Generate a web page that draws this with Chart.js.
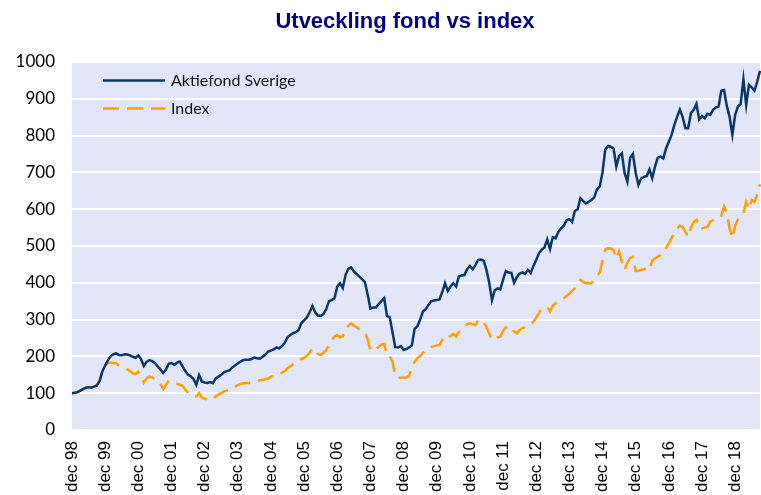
<!DOCTYPE html>
<html><head><meta charset="utf-8">
<script src="https://cdn.jsdelivr.net/npm/chart.js@4"></script>
<style>html,body{margin:0;padding:0;background:#fff}</style>
</head><body>
<canvas id="c" width="761" height="495"></canvas>
<script>
const chartTitle = 'Utveckling fond vs index';
const seriesNames = ['Aktiefond Sverige', 'Index'];
const yearLabels = ['dec 98','dec 99','dec 00','dec 01','dec 02','dec 03','dec 04','dec 05','dec 06','dec 07',
                    'dec 08','dec 09','dec 10','dec 11','dec 12','dec 13','dec 14','dec 15','dec 16','dec 17','dec 18'];
const yTicks = [0,100,200,300,400,500,600,700,800,900,1000];

const fundValues = [
 100,101,103,107,111,115,116,115,118,121,133,160,
 175,190,201,206,208,204,203,206,205,203,199,196,
 203,192,174,185,190,187,182,173,165,155,164,180,
 182,177,183,186,173,160,150,146,138,123,149,132,
 129,128,130,127,140,145,150,157,160,162,170,175,
 181,186,190,191,191,193,197,195,194,199,205,213,
 216,219,224,222,228,237,252,258,263,266,272,290,
 298,306,320,337,320,311,310,315,328,350,353,358,
 390,399,386,421,438,442,431,424,417,410,402,368,
 330,333,333,342,350,358,310,306,265,225,224,228,
 218,220,224,230,275,282,300,322,328,340,350,352,
 353,355,375,399,378,390,399,390,417,420,421,437,
 446,437,448,462,463,460,435,400,353,380,385,382,
 408,432,428,427,400,415,425,428,424,435,427,446,
 462,480,490,496,518,492,524,521,538,548,555,570,
 573,565,595,600,630,622,616,620,625,632,654,662,
 700,762,772,770,765,716,745,752,698,675,740,750,
 700,666,684,688,690,708,684,716,740,743,738,765,
 783,802,829,851,871,851,820,820,861,870,886,844,
 853,847,859,856,870,876,879,922,924,880,851,802,
 856,879,886,953,883,938,931,922,947,976
];

const indexValues = [
 100,101,103,107,111,114,116,115,118,122,135,158,
 176,183,183,182,181,175,172,168,165,160,154,152,
 158,149,129,140,145,143,138,132,125,111,122,134,
 132,129,126,123,120,110,101,93,91,91,100,88,
 85,83,82,84,91,96,100,105,107,109,113,118,
 122,125,127,128,128,129,131,133,135,136,138,140,
 144,147,150,152,156,160,168,173,178,180,188,193,
 196,202,210,222,217,206,204,210,217,230,242,254,
 258,252,254,276,283,290,284,279,274,270,267,246,
 217,222,220,226,232,234,203,201,185,147,143,142,
 143,143,147,170,185,195,201,210,217,222,226,228,
 230,231,245,256,252,255,261,254,266,272,280,288,
 290,287,285,298,300,292,280,262,245,250,252,253,
 270,279,280,281,268,262,272,277,279,281,286,294,
 305,318,330,333,333,322,338,344,349,355,358,364,
 370,378,385,395,408,402,399,399,399,408,418,428,
 460,490,494,493,489,466,485,457,435,455,467,470,
 432,432,435,437,439,435,460,466,471,475,480,495,
 507,522,535,548,555,552,538,525,550,565,571,548,
 548,550,552,566,570,571,576,582,607,590,548,521,
 555,572,580,589,620,600,625,620,640,668
];

const categories = fundValues.map((_, i) => (i % 12 === 0 ? yearLabels[i / 12] : ''));

const fundColor = '#0A3768';
const indexColor = '#FFA000';
const plotBg = '#E3E5F9';

const bgPlugin = {
  id: 'bg',
  beforeDraw(chart) {
    const { ctx, chartArea: a } = chart;
    ctx.save();
    ctx.fillStyle = plotBg;
    ctx.fillRect(a.left, a.top, a.right - a.left, a.bottom - a.top);
    ctx.restore();
  }
};

const titleLegendPlugin = {
  id: 'titleLegend',
  afterDraw(chart) {
    const ctx = chart.ctx;
    ctx.save();
    ctx.fillStyle = '#000080';
    ctx.font = 'bold 22px "Liberation Sans", Arial, sans-serif';
    ctx.textAlign = 'center';
    ctx.textBaseline = 'alphabetic';
    ctx.fillText(chartTitle, 405, 28);

    const rows = [
      { y: 80.5, ds: chart.data.datasets[0] },
      { y: 108.5, ds: chart.data.datasets[1] }
    ];
    rows.forEach(r => {
      ctx.beginPath();
      ctx.strokeStyle = r.ds.borderColor;
      ctx.lineWidth = r.ds.borderWidth;
      ctx.setLineDash(r.ds.borderDash || []);
      ctx.moveTo(103, r.y);
      ctx.lineTo(165, r.y);
      ctx.stroke();
      ctx.setLineDash([]);
      ctx.fillStyle = '#111';
      ctx.font = '16px Lato, sans-serif';
      ctx.textAlign = 'left';
      ctx.textBaseline = 'middle';
      ctx.fillText(r.ds.label, 171, r.y);
    });
    ctx.restore();
  }
};

new Chart(document.getElementById('c'), {
  type: 'line',
  data: {
    labels: categories,
    datasets: [
      { label: seriesNames[0], data: fundValues, borderColor: fundColor, borderWidth: 2.5,
        pointRadius: 0, tension: 0, fill: false },
      { label: seriesNames[1], data: indexValues, borderColor: indexColor, borderWidth: 2.5,
        borderDash: [16, 8], pointRadius: 0, tension: 0, fill: false }
    ]
  },
  options: {
    responsive: false,
    animation: false,
    layout: { padding: { top: 62, right: 1, left: 0, bottom: 0 } },
    plugins: { legend: { display: false }, title: { display: false }, tooltip: { enabled: false } },
    scales: {
      x: {
        ticks: { autoSkip: false, maxRotation: 90, minRotation: 90, padding: 11,
                 font: { family: '"Liberation Sans", Arial, sans-serif', size: 17 }, color: '#000' },
        grid: { display: false, drawTicks: false },
        border: { display: false },
        afterFit(s) { s.height = 65; s.paddingLeft = 0; s.paddingRight = 0; }
      },
      y: {
        min: yTicks[0], max: yTicks[yTicks.length - 1],
        afterBuildTicks(s) { s.ticks = yTicks.map(v => ({ value: v })); },
        ticks: { padding: 17, font: { family: 'Lato, sans-serif', size: 17 }, color: '#000',
                 callback: v => String(v) },
        grid: { color: '#ffffff', lineWidth: 2, drawTicks: false },
        border: { display: false },
        afterFit(s) { s.width = 72; s.paddingTop = 0; s.paddingBottom = 0; }
      }
    }
  },
  plugins: [bgPlugin, titleLegendPlugin]
});
</script>
</body></html>
